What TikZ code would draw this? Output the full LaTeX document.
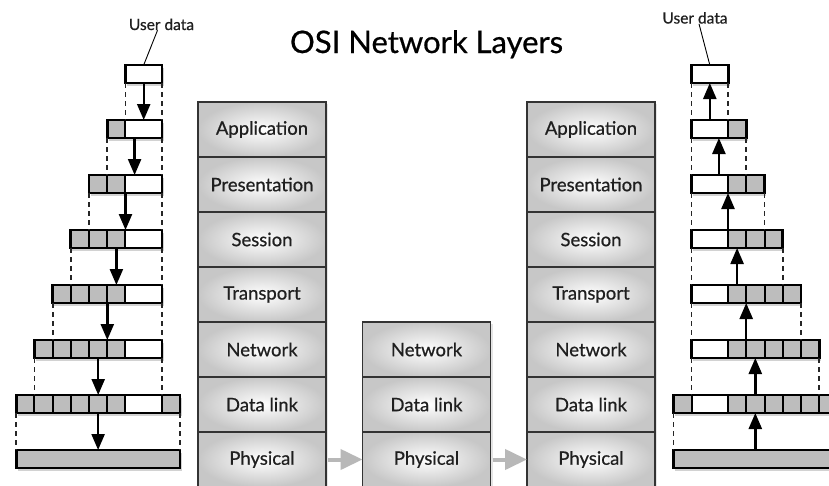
\documentclass[tikz,border=0pt]{standalone}
\usepackage{fontspec}
\setmainfont{Lato}[FakeBold=0.6]
\usetikzlibrary{arrows.meta,shadows,calc}
\definecolor{cellgray}{HTML}{BDBDBD}
\definecolor{arrgray}{HTML}{B8B8B8}
\definecolor{edgec}{HTML}{333333}
\tikzset{
  pkt/.style={draw=black, line width=2.8pt, fill=white, minimum height=18pt, inner sep=0pt, outer sep=0pt,
    drop shadow={opacity=0.35, shadow xshift=1.5pt, shadow yshift=-3pt}},
  pktborder/.style={draw=black, line width=2.8pt},
  cellline/.style={draw=black, line width=2pt},
  arr/.style={draw=black, line width=2.4pt, -{Triangle[length=16pt,width=13pt]}},
  dashline/.style={draw=black!85, line width=1.8pt, dash pattern=on 5pt off 4pt},
  layer/.style={draw=edgec, line width=1.5pt, minimum width=128pt, minimum height=55pt, inner sep=0pt, outer sep=0pt,
    inner color=white, outer color=black!22, font=\fontsize{18.5}{20}\selectfont, text=black!88,
    drop shadow={opacity=0.2, shadow xshift=2pt, shadow yshift=-2pt}},
  garr/.style={draw=arrgray, line width=4pt, -{Triangle[length=22pt,width=20pt]}, shorten <=2pt},
  udlabel/.style={font=\fontsize{15.5}{17}\selectfont, inner sep=1pt, text=black!88},
  leader/.style={draw=black, line width=0.9pt}
}
\begin{document}
\begin{tikzpicture}[x=1pt,y=-1pt]
\useasboundingbox (0,0) rectangle (829,485);
\fill[white] (0,0) rectangle (829,485);

% title
\node[anchor=base, font=\fontsize{31}{33}\selectfont, inner sep=0pt] (title) at (426.5,53) {OSI Network Layers};

% stacks
\foreach \nm/\lab [count=\i from 0] in {A/Application, P/Presentation, S/Session, T/Transport, N/Network, D/Data link, Ph/Physical}{
  \node[layer] (SL\nm) at (262,{129.5+55*\i}) {\lab};
  \node[layer] (SR\nm) at (591,{129.5+55*\i}) {\lab};
}
\foreach \nm/\lab [count=\i from 4] in {N/Network, D/Data link, Ph/Physical}{
  \node[layer] (SM\nm) at (426.5,{129.5+55*\i}) {\lab};
}
\draw[garr] (SLPh.east) -- (SMPh.west);
\draw[garr] (SMPh.east) -- (SRPh.west);

% ---- left encapsulation column
\foreach \k in {0,...,5}{
  \pgfmathsetmacro{\W}{36.6+18.2*\k}
  \pgfmathsetmacro{\cy}{74+55*\k}
  \node[pkt, minimum width=\W pt] (L\k) at ({162-\W/2},\cy) {};
  \fill[cellgray] ({162-\W},\cy-9) rectangle (125.4,\cy+9);
  \foreach \j in {0,...,\k} \draw[cellline] ({125.4-18.2*\j},\cy-9) -- ++(0,18);
  \draw[pktborder] (L\k.north west) rectangle (L\k.south east);
}
\node[pkt, minimum width=163.8pt] (L6) at (98.1,404) {};
\fill[cellgray] (16.2,395) rectangle (125.4,413);
\fill[cellgray] (162,395) rectangle (180,413);
\foreach \j in {0,...,5} \draw[cellline] ({125.4-18.2*\j},395) -- ++(0,18);
\draw[cellline] (162,395) -- ++(0,18);
\draw[pktborder] (L6.north west) rectangle (L6.south east);
\node[pkt, fill=cellgray, minimum width=163.8pt] (L7) at (98.1,459) {};

\foreach \k [evaluate=\k as \n using int(\k+1)] in {0,...,6}{
  \draw[arr] (L\k.south) -- (L\k.south |- L\n.north);
  \draw[dashline] (L\k.south west) -- (L\k.south west |- L\n.north);
  \draw[dashline] (L\k.south east) -- (L\k.south east |- L\n.north);
}

% ---- right decapsulation column
\foreach \k in {0,...,5}{
  \pgfmathsetmacro{\W}{36.6+18.2*\k}
  \pgfmathsetmacro{\cy}{74+55*\k}
  \node[pkt, minimum width=\W pt] (R\k) at ({691.5+\W/2},\cy) {};
  \fill[cellgray] (728.1,\cy-9) rectangle ({691.5+\W},\cy+9);
  \foreach \j in {0,...,\k} \draw[cellline] ({728.1+18.2*\j},\cy-9) -- ++(0,18);
  \draw[pktborder] (R\k.north west) rectangle (R\k.south east);
}
\node[pkt, minimum width=163.8pt] (R6) at (755.3,404) {};
\fill[cellgray] (673.3,395) rectangle (691.5,413);
\fill[cellgray] (728.1,395) rectangle (837.3,413);
\foreach \j in {0,...,5} \draw[cellline] ({728.1+18.2*\j},395) -- ++(0,18);
\draw[cellline] (691.5,395) -- ++(0,18);
\draw[pktborder] (R6.north west) rectangle (R6.south east);
\node[pkt, fill=cellgray, minimum width=163.8pt] (R7) at (755.3,459) {};

\foreach \k [evaluate=\k as \n using int(\k+1)] in {0,...,6}{
  \draw[arr] (R\k.south |- R\n.north) -- (R\k.south);
  \draw[dashline] (R\k.south west) -- (R\k.south west |- R\n.north);
  \draw[dashline] (R\k.south east) -- (R\k.south east |- R\n.north);
}

% user data labels
\node[udlabel, anchor=base] (udL) at (161.5,30) {User data};
\node[udlabel, anchor=base] (udR) at (695,23.5) {User data};
\draw[leader] ($(udL.south)+(-4,-1)$) -- (L0.north);
\draw[leader] ($(udR.south)+(4,-1)$) -- (R0.north);
\end{tikzpicture}
\end{document}
